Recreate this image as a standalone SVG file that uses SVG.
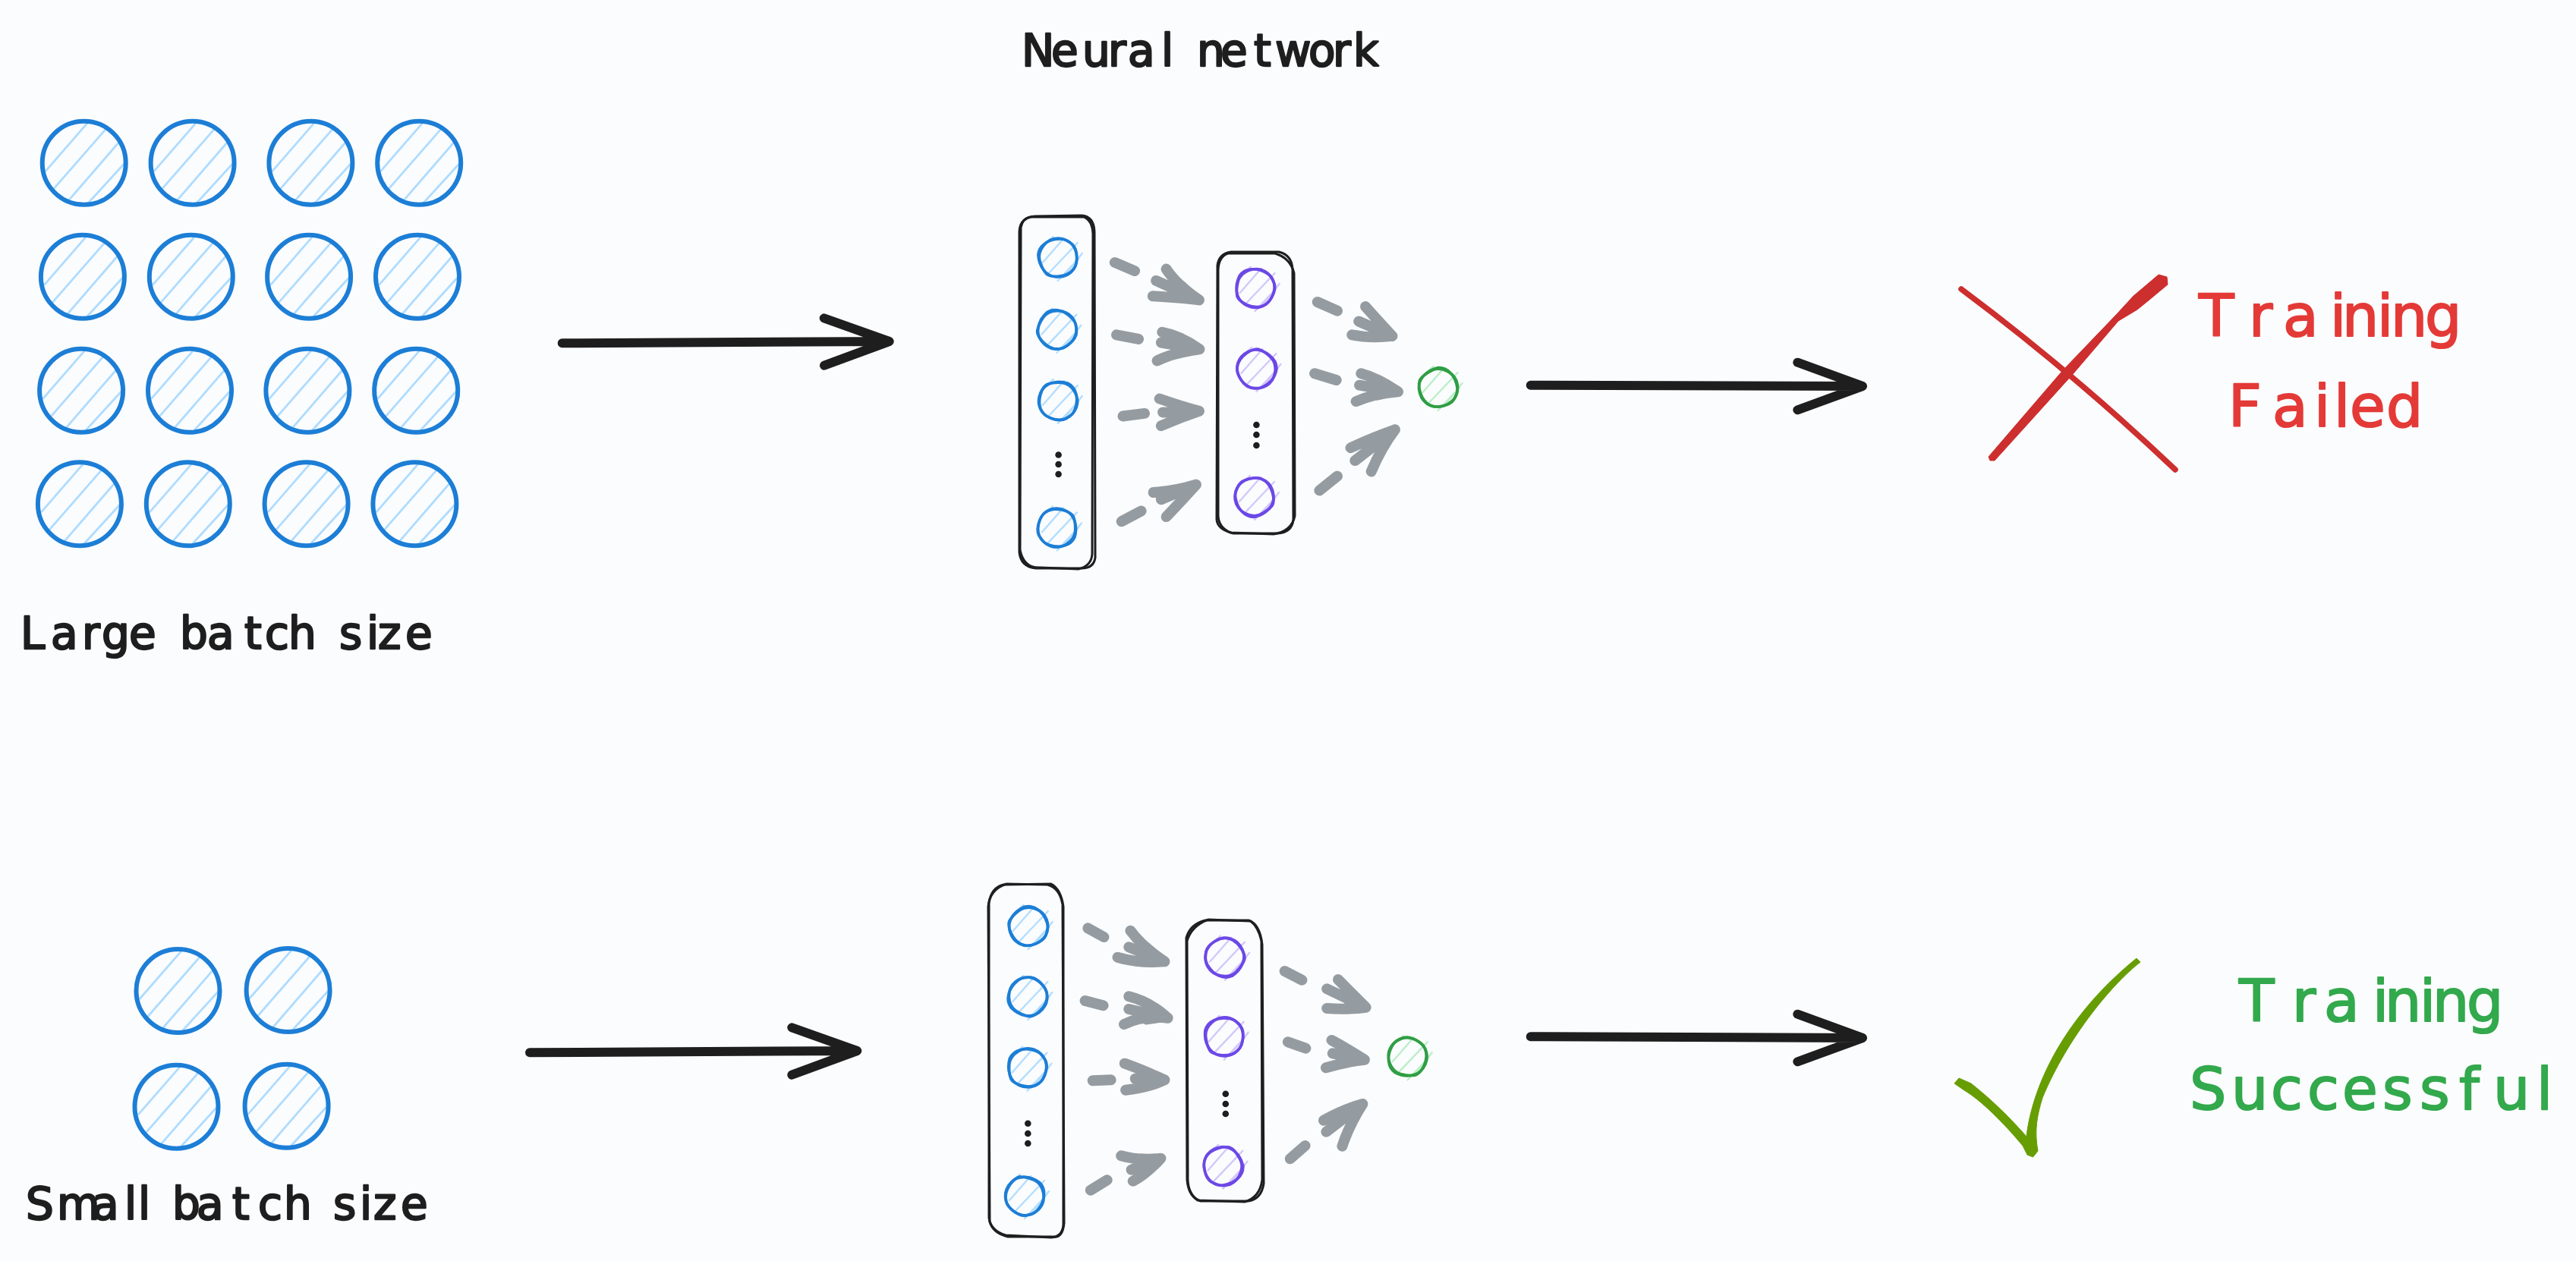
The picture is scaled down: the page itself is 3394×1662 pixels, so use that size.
<svg xmlns="http://www.w3.org/2000/svg" width="3394" height="1662" viewBox="0 0 3394 1662">
<style>
.bg{fill:#fbfcfe}
.t{font-family:"DejaVu Sans","Liberation Sans",sans-serif;font-size:58px;fill:#1e1e1e;stroke:#1e1e1e;stroke-width:2.4;stroke-linejoin:round}
.tl{font-size:76px;stroke-width:2}
.red{fill:#e43a37;stroke:#e43a37}
.grn{fill:#32a94c;stroke:#32a94c}
.ring{fill:none;stroke:#1c7ed6;stroke-width:6}
.hatch{fill:none;stroke:#aedcff;stroke-width:2.8;stroke-linecap:round}
.box{fill:none;stroke:#1e1e1e;stroke-width:3;stroke-linejoin:round}
.dot{fill:#1e1e1e}
.sb{stroke:#1c7ed6}.sh-b{stroke:#b3deff}
.sp{stroke:#6c48e6}.sh-p{stroke:#d3c8fb}
.sg{stroke:#2f9e44}.sh-g{stroke:#bdeec9}
.gr{fill:none;stroke:#959ca1;stroke-width:14;stroke-linecap:round;stroke-linejoin:round}
.gf{fill:#959ca1;stroke:#959ca1;stroke-width:9;stroke-linejoin:round}
.bk{fill:none;stroke:#1e1e1e;stroke-width:12;stroke-linecap:round;stroke-linejoin:round}
</style>
<defs>
<g id="big">
<path class="hatch" d="M-50 10L4.500-52.600M-40 34L29-45M-20 49L44.700-25.800M6.300 52L53.600 0.200"/>
<circle class="ring" r="55"/>
</g>
<g id="sh" fill="none" stroke-width="2.400" stroke-linecap="round">
<path d="M-22-14L-6-28M-20 6L8-26M-12 20L26-20M0 30L28 0M10 22L32-6"/>
</g>
<g id="sr" fill="none" stroke-width="3.600" stroke-linejoin="round">
<path d="M-26-4C-25-17-12-25 3-25C16-25 25-14 25 1C25 15 14 26-2 25C-16 24-25 11-26-4Z"/>
<path d="M-24 3C-27-10-15-26 0-26C9-26 13-22 19-18C27-11 26 8 21 14C13 26-11 27-16 20C-20 15-22 10-24 3Z"/>
</g>
</defs>
<rect class="bg" width="3394" height="1662"/>

<g id="label-neural-network"><text class="t" y="87" x="1346 1385 1426 1460 1486 1530 1560 1577 1608 1652 1680 1724 1756 1783">Neural network</text></g>
<g id="label-large-batch"><text class="t" y="855" x="27 67 108 134 170 210 237 273 322 349 380 420 447 483 498 534">Large batch size</text></g>
<g id="label-small-batch"><text class="t" y="1607" x="34 75 121 164 182 210 227 259 306 340 374 420 439 474 492 528">Small batch size</text></g>

<g id="large-batch">
<g id="lb-1-1"><use href="#big" x="110.700" y="214.800"/></g>
<g id="lb-1-2"><use href="#big" x="253.600" y="214.800"/></g>
<g id="lb-1-3"><use href="#big" x="409.400" y="214.800"/></g>
<g id="lb-1-4"><use href="#big" x="552.200" y="214.800"/></g>
<g id="lb-2-1"><use href="#big" x="108.900" y="364.800"/></g>
<g id="lb-2-2"><use href="#big" x="251.800" y="364.800"/></g>
<g id="lb-2-3"><use href="#big" x="407.100" y="364.800"/></g>
<g id="lb-2-4"><use href="#big" x="550" y="364.800"/></g>
<g id="lb-3-1"><use href="#big" x="107.100" y="514.800"/></g>
<g id="lb-3-2"><use href="#big" x="250" y="514.800"/></g>
<g id="lb-3-3"><use href="#big" x="405.400" y="514.800"/></g>
<g id="lb-3-4"><use href="#big" x="548.200" y="514.800"/></g>
<g id="lb-4-1"><use href="#big" x="104.900" y="664.300"/></g>
<g id="lb-4-2"><use href="#big" x="247.800" y="664.300"/></g>
<g id="lb-4-3"><use href="#big" x="403.600" y="664.300"/></g>
<g id="lb-4-4"><use href="#big" x="546.400" y="664.300"/></g>
</g>
<g id="small-batch">
<g id="sb-1-1"><use href="#big" x="234.500" y="1306"/></g>
<g id="sb-1-2"><use href="#big" x="379.600" y="1305"/></g>
<g id="sb-2-1"><use href="#big" x="232.500" y="1458.700"/></g>
<g id="sb-2-2"><use href="#big" x="377.600" y="1457.700"/></g>
</g>

<g id="net1-layer1">
<path class="box" d="M1364 285L1425 284Q1441 285 1442 305L1443 735Q1441 749 1425 749L1365 749Q1345 747 1343 728L1343 305Q1344 286 1364 285Z"/>
<path class="box" d="M1358 286L1428 286Q1439 290 1440 308L1439 730Q1438 746 1421 750L1370 748Q1349 749 1344 725L1345 300Q1347 288 1358 286Z"/>
<circle class="dot" cx="1394.600" cy="599.500" r="4.300"/><circle class="dot" cx="1394.600" cy="612" r="4.300"/><circle class="dot" cx="1394.600" cy="625" r="4.300"/>
</g>
<g id="net1-layer2">
<path class="box" d="M1622 332L1685 332Q1702 336 1703 355L1704 685Q1702 702 1683 703L1625 703Q1604 698 1603 685L1604 350Q1606 334 1622 332Z"/>
<path class="box" d="M1618 334L1680 334Q1700 340 1705 360L1706 680Q1702 700 1678 704L1622 702Q1606 696 1605 680L1605 355Q1606 338 1618 334Z"/>
<circle class="dot" cx="1655.400" cy="560" r="4.300"/><circle class="dot" cx="1655.400" cy="573" r="4.300"/><circle class="dot" cx="1655.400" cy="587" r="4.300"/>
</g>
<g id="n1-b1" transform="translate(1393.800 340)"><use href="#sh" class="sh-b"/><use href="#sr" class="sb"/></g>
<g id="n1-b2" transform="translate(1392.400 434.700)"><use href="#sh" class="sh-b"/><use href="#sr" class="sb" transform="rotate(50)"/></g>
<g id="n1-b3" transform="translate(1393.800 528)"><use href="#sh" class="sh-b"/><use href="#sr" class="sb" transform="rotate(110)"/></g>
<g id="n1-b4" transform="translate(1392.900 695.400)"><use href="#sh" class="sh-b"/><use href="#sr" class="sb" transform="rotate(200)"/></g>
<g id="n1-p1" transform="translate(1653.600 380)"><use href="#sh" class="sh-p"/><use href="#sr" class="sp" transform="rotate(30)"/></g>
<g id="n1-p2" transform="translate(1655.400 486)"><use href="#sh" class="sh-p"/><use href="#sr" class="sp" transform="rotate(150)"/></g>
<g id="n1-p3" transform="translate(1653 655)"><use href="#sh" class="sh-p"/><use href="#sr" class="sp" transform="rotate(260)"/></g>
<g id="n1-g1" transform="translate(1894.600 511)"><use href="#sh" class="sh-g"/><use href="#sr" class="sg" transform="rotate(80)"/></g>

<g id="net2-layer1">
<path class="box" d="M1322 1166L1385 1165Q1398 1172 1401 1195L1401 1610Q1402 1630 1385 1631L1325 1628Q1305 1622 1303 1605L1303 1190Q1306 1170 1322 1166Z"/>
<path class="box" d="M1326 1165L1380 1166Q1396 1170 1400 1192L1402 1612Q1400 1632 1388 1630L1328 1630Q1308 1625 1304 1610L1302 1195Q1304 1172 1326 1165Z"/>
<circle class="dot" cx="1354.300" cy="1480.700" r="4.300"/><circle class="dot" cx="1354.300" cy="1494" r="4.300"/><circle class="dot" cx="1354.300" cy="1507" r="4.300"/>
</g>
<g id="net2-layer2">
<path class="box" d="M1588 1213L1645 1213Q1660 1218 1663 1245L1665 1560Q1662 1580 1645 1583L1582 1583Q1566 1578 1564 1555L1563 1236Q1568 1218 1588 1213Z"/>
<path class="box" d="M1592 1212L1648 1214Q1658 1222 1662 1240L1663 1555Q1660 1578 1640 1584L1578 1582Q1564 1572 1565 1550L1564 1240Q1570 1220 1592 1212Z"/>
<circle class="dot" cx="1614.800" cy="1441.700" r="4.300"/><circle class="dot" cx="1614.800" cy="1455" r="4.300"/><circle class="dot" cx="1614.800" cy="1468" r="4.300"/>
</g>
<g id="n2-b1" transform="translate(1354.700 1221)"><use href="#sh" class="sh-b"/><use href="#sr" class="sb" transform="rotate(70)"/></g>
<g id="n2-b2" transform="translate(1354.300 1314)"><use href="#sh" class="sh-b"/><use href="#sr" class="sb" transform="rotate(320)"/></g>
<g id="n2-b3" transform="translate(1353.400 1407.700)"><use href="#sh" class="sh-b"/><use href="#sr" class="sb" transform="rotate(20)"/></g>
<g id="n2-b4" transform="translate(1350 1576)"><use href="#sh" class="sh-b"/><use href="#sr" class="sb" transform="rotate(130)"/></g>
<g id="n2-p1" transform="translate(1614 1261.700)"><use href="#sh" class="sh-p"/><use href="#sr" class="sp" transform="rotate(240)"/></g>
<g id="n2-p2" transform="translate(1612.700 1366.700)"><use href="#sh" class="sh-p"/><use href="#sr" class="sp" transform="rotate(10)"/></g>
<g id="n2-p3" transform="translate(1611.400 1536.700)"><use href="#sh" class="sh-p"/><use href="#sr" class="sp" transform="rotate(170)"/></g>
<g id="n2-g1" transform="translate(1854.700 1393.300)"><use href="#sh" class="sh-g"/><use href="#sr" class="sg" transform="rotate(300)"/></g>

<g id="connectors">
<path class="bk" d="M740.700 452.300L1171.700 450M1085.700 419.300L1171.700 450L1086 481.700"/>
<path class="bk" d="M2016.700 507.700L2454 509M2368.300 477.700L2454 509L2368.300 540.300"/>
<path class="bk" d="M698 1387.300L1129.300 1385M1043.300 1354.300L1129.300 1385L1043.300 1416.700"/>
<path class="bk" d="M2016.700 1366.300L2454 1368M2368.300 1336.700L2454 1368L2368.300 1399.300"/>
<path class="gr" d="M1468.800 345.900L1495.100 357.100M1536.600 354.600Q1550 375 1579.900 395.400M1523.200 369.900L1579.900 395.400M1518.800 390.300Q1550 392 1579.900 395.400"/>
<path class="gr" d="M1471 441.300L1500 446.900M1531.300 437.800Q1555 442 1580.400 460.200M1529.900 451.500L1580.400 460.200M1524.600 475.500Q1545 465 1580.400 460.200"/>
<path class="gr" d="M1479.500 548.500L1508 544.900M1527.700 525.500Q1555 535 1579.900 541.800M1532.100 543.400L1579.900 541.800M1529.900 561.200Q1555 550 1579.900 541.800"/>
<path class="gr" d="M1477.700 687.200L1503.600 673.500M1519.600 649Q1545 648 1575.900 638.800M1529.900 658.200L1575.900 638.800M1536.600 681.100Q1555 662 1575.900 638.800"/>
<path class="gr" d="M1735.700 398L1762 409.700M1799.100 404.100Q1815 422 1834.400 442.900M1790.200 423.500L1834.400 442.900M1781.300 441.300Q1805 446 1834.400 442.900"/>
<path class="gr" d="M1732.100 492.300L1760.700 501M1793.300 492.300Q1815 498 1842 516.300M1791.100 507.700L1842 516.300M1786.600 529.100Q1810 519 1842 516.300"/>
<path class="gr" d="M1738.400 646.400L1762 627.600M1779.500 590.300Q1805 578 1837.900 566.300M1785.300 607.100L1837.900 566.300M1806.700 621.400Q1820 590 1837.900 566.300"/>
<path class="gr" d="M1433.400 1223.300L1454.400 1235M1489.400 1226.700Q1505 1248 1534.400 1267.300M1487.300 1248.300L1534.400 1267.300M1472.500 1261.700Q1500 1270 1534.400 1267.300"/>
<path class="gr" d="M1429.600 1319L1453.600 1325.300M1487.300 1313.300Q1515 1320 1538.600 1341.700M1487.300 1330L1538.600 1341.700M1481 1350Q1505 1338 1538.600 1341.700"/>
<path class="gr" d="M1439.700 1424.300L1463.700 1423.300M1481.800 1401.700Q1505 1410 1534.400 1423.300M1495.700 1421.700L1534.400 1423.300M1483.100 1436.700Q1515 1433 1534.400 1423.300"/>
<path class="gr" d="M1436.800 1568.700L1458.700 1555.300M1477.200 1523.300Q1500 1530 1529.400 1526.700M1490.600 1541.700L1529.400 1526.700M1492.700 1556.700Q1510 1548 1529.400 1526.700"/>
<path class="gr" d="M1692.700 1280L1715.400 1291.700M1763 1291Q1780 1308 1799.600 1327.700M1748.200 1303.300L1799.600 1327.700M1748.200 1329Q1775 1331 1799.600 1327.700"/>
<path class="gr" d="M1696.900 1373.300L1720.400 1381.700M1754.500 1371Q1775 1382 1797.900 1396.700M1755.800 1388.300L1797.900 1396.700M1747 1407.300Q1775 1399 1797.900 1396.700"/>
<path class="gr" d="M1699.800 1527.300L1719.600 1510M1744 1476.700Q1770 1462 1795.400 1455M1747.400 1491.700L1795.400 1455M1768.400 1510.700Q1778 1482 1795.400 1455"/>
<path class="gf" d="M1558 375L1579.900 395.400L1549 393ZM1556 449L1580.400 460.200L1552.500 468ZM1554 534L1579.900 541.800L1555 551ZM1548 644L1575.900 638.800L1556 660ZM1817 423.500L1834.400 442.900L1808 442ZM1818 504L1842 516.300L1814 523ZM1809 578L1837.900 566.300L1822 594ZM1512 1247L1534.400 1267.300L1503 1264.500ZM1513 1327.500L1538.600 1341.700L1510 1346ZM1508 1412.500L1534.400 1423.300L1509 1430ZM1503 1525L1529.400 1526.700L1511 1542ZM1781 1309L1799.600 1327.700L1774 1328ZM1776 1384L1797.900 1396.700L1772 1402ZM1770 1466L1795.400 1455L1782 1483Z"/>
</g>

<g id="result-failed">
<path fill="none" stroke="#cd2e2e" stroke-width="7.500" stroke-linecap="round" d="M2584 381Q2730 490 2866 619"/>
<path fill="#cd2e2e" stroke="#cd2e2e" stroke-linejoin="round" d="M2620 602L2718 488L2788 415L2811 390L2837 368L2844 362L2855 365L2856 375L2832 395L2816 408L2791 423L2732 492L2628 607L2622 607Z"/>
<text class="t tl red" y="443" x="2897 2963 3008 3070 3086 3132 3150 3195">Training</text>
<text class="t tl red" y="562" x="2936 2994 3049 3075 3096 3144">Failed</text>
</g>
<g id="result-success">
<path fill="#669d03" stroke="#669d03" stroke-linejoin="round" d="M2815 1263L2820 1268C2785 1295 2725 1365 2691 1447C2684 1470 2680 1490 2685 1517L2678.500 1525L2671 1522L2665 1510C2640 1480 2610 1450 2588 1437L2575 1428L2581 1421L2597 1428C2625 1450 2650 1475 2670 1498C2678 1430 2720 1340 2815 1263Z"/>
<text class="t tl grn" y="1346" x="2950 3020 3062 3126 3142 3188 3205 3250">Training</text>
<text class="t tl grn" y="1462" x="2885 2940 2992 3040 3086 3139 3188 3240 3285 3342">Successful</text>
</g>
</svg>
